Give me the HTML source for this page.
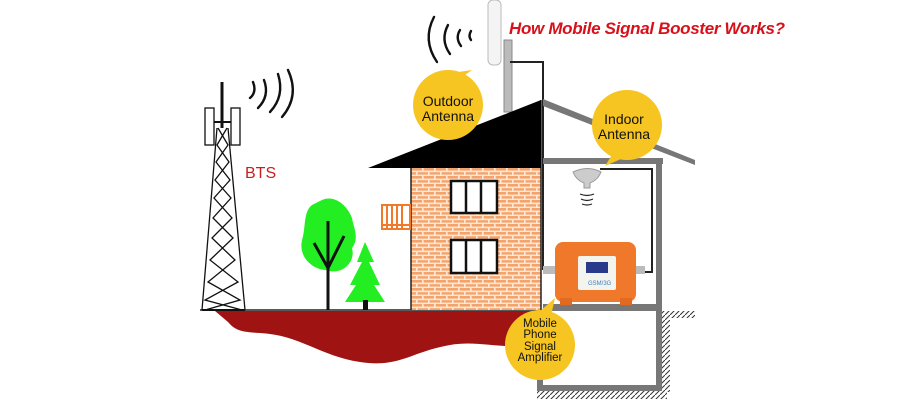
<!DOCTYPE html>
<html><head><meta charset="utf-8"><style>
html,body{margin:0;padding:0;background:#fff;}
svg{display:block;}
text{font-family:"Liberation Sans",sans-serif;}
</style></head><body>
<svg width="900" height="400" viewBox="0 0 900 400" xmlns="http://www.w3.org/2000/svg">
<defs>
<pattern id="brick" width="12" height="8" patternUnits="userSpaceOnUse">
<rect width="12" height="8" fill="#f4a36a"/>
<rect y="2.6" width="12" height="1.6" fill="#fde9da"/>
<rect y="6.6" width="12" height="1.6" fill="#fde9da"/>
<rect x="2" y="0" width="1.6" height="3" fill="#fde9da"/>
<rect x="8" y="4" width="1.6" height="3" fill="#fde9da"/>
</pattern>
<pattern id="hatch" width="5" height="5" patternUnits="userSpaceOnUse">
<rect width="5" height="5" fill="#fff"/>
<line x1="0" y1="5" x2="5" y2="0" stroke="#333" stroke-width="1"/>
</pattern>
</defs>
<path d="M215,311 L540,311 L540,345 C500,350 480,340 450,345 C410,352 400,368 360,362 C320,356 300,335 260,333 C240,332 235,330 228,322 Z" fill="#a01313"/>
<line x1="200" y1="310" x2="541" y2="310" stroke="#222" stroke-width="1.5"/>
<g stroke="#111" stroke-width="1.3" fill="none">
<line x1="222" y1="82" x2="222" y2="128" stroke-width="3"/>
<rect x="205" y="108" width="9" height="37" fill="#fff"/>
<rect x="231" y="108" width="9" height="37" fill="#fff"/>
<line x1="214" y1="122" x2="231" y2="122" stroke-width="2"/>
<line x1="217" y1="128" x2="202" y2="310"/>
<line x1="228" y1="128" x2="245" y2="310"/>
<path d="M218,128 L228,145 L216,162 L230,180 L214,198 L232,218 L212,238 L235,260 L208,282 L240,300 L205,310"/>
<path d="M227,128 L217,145 L229,162 L215,180 L231,198 L213,218 L233,238 L210,260 L238,282 L205,300 L242,310"/>
<line x1="202" y1="310" x2="245" y2="310" stroke-width="2"/>
</g>
<g stroke="#111" stroke-width="2.4" fill="none" stroke-linecap="round">
<path d="M250,98 Q257,92 253,82"/><path d="M258,108 Q270,96 264,80"/><path d="M270,112 Q285,96 278,74"/><path d="M282,117 Q300,96 288,70"/>
<path d="M437,62 Q422,40 434,17"/><path d="M450,54 Q440,40 448,25"/><path d="M461,46 Q455,38 460,30"/><path d="M471,40 Q468,36 471,31"/>
</g>
<text x="245" y="178" font-size="16" fill="#c81e1e">BTS</text>
<path d="M312,205 C303,212 306,228 302,240 C298,258 314,270 326,270 C342,276 356,262 352,248 C360,238 353,226 352,218 C346,203 333,195 322,200 Z" fill="#22ee22"/>
<path d="M328,221 L328,310 M314,243 L328,268 L344,236" stroke="#111" stroke-width="3" fill="none"/>
<path d="M365,242 L357,262 L362,262 L350,285 L356,285 L345,302 L385,302 L374,285 L380,285 L369,262 L374,262 Z" fill="#22ee22"/>
<rect x="363" y="300" width="5" height="10" fill="#111"/>
<rect x="504" y="40" width="8" height="72" fill="#bbb" stroke="#888"/>
<rect x="488" y="0" width="13" height="65" rx="5" fill="#f4f4f4" stroke="#bbb"/>
<polyline points="510,62 543,62 543,270" fill="none" stroke="#222" stroke-width="2"/>
<g fill="#777">
<polygon points="543,99 695,160 695,165 543,106"/>
<rect x="543" y="158" width="120" height="6"/>
<rect x="656" y="158" width="6" height="233"/>
<rect x="543" y="304" width="119" height="7"/>
<rect x="537" y="311" width="6" height="80"/>
<rect x="537" y="385" width="125" height="6"/>
</g>
<rect x="662" y="311" width="33" height="7" fill="url(#hatch)"/>
<rect x="662" y="318" width="8" height="74" fill="url(#hatch)"/>
<rect x="537" y="391" width="130" height="8" fill="url(#hatch)"/>
<rect x="411" y="168" width="130" height="142" fill="url(#brick)"/>
<line x1="411" y1="168" x2="411" y2="310" stroke="#222" stroke-width="1.5"/>
<line x1="541" y1="100" x2="541" y2="310" stroke="#222" stroke-width="1.5"/>
<polygon points="368,168 541,168 541,100" fill="#000"/>
<g fill="#fff" stroke="#111" stroke-width="2.5">
<rect x="451" y="181" width="46" height="32"/><rect x="451" y="240" width="46" height="33"/>
</g>
<g stroke="#111" stroke-width="2.5"><line x1="466" y1="181" x2="466" y2="213"/><line x1="481" y1="181" x2="481" y2="213"/><line x1="466" y1="240" x2="466" y2="273"/><line x1="481" y1="240" x2="481" y2="273"/></g>
<rect x="382" y="205" width="28" height="24" fill="#fff" stroke="#f07a2a" stroke-width="2"/>
<g stroke="#f07a2a" stroke-width="2"><line x1="387" y1="205" x2="387" y2="229"/><line x1="392" y1="205" x2="392" y2="229"/><line x1="397" y1="205" x2="397" y2="229"/><line x1="402" y1="205" x2="402" y2="229"/><line x1="382" y1="225" x2="410" y2="225"/></g>
<path d="M573,172 Q588,165 601,172 Q598,180 590,183 L590,188 L584,188 L584,183 Q576,180 573,172 Z" fill="#ccc" stroke="#999"/>
<g stroke="#222" stroke-width="1.2" fill="none"><path d="M580,194 Q587,197 594,194"/><path d="M581,199 Q587,202 593,199"/><path d="M582,204 Q587,206 592,204"/></g>
<polyline points="600,169 652,169 652,272 644,272" fill="none" stroke="#222" stroke-width="2"/>
<rect x="543" y="266" width="12" height="8" fill="#bbb"/>
<rect x="635" y="266" width="10" height="8" fill="#bbb"/>
<rect x="555" y="242" width="81" height="60" rx="8" fill="#f0782a"/>
<rect x="560" y="298" width="12" height="7" fill="#e06a20"/><rect x="620" y="298" width="12" height="7" fill="#e06a20"/>
<rect x="578" y="256" width="38" height="34" rx="2" fill="#f4f4ee"/>
<rect x="586" y="262" width="22" height="11" fill="#2a3a8a"/>
<text x="588" y="285" font-size="6" fill="#3a80c0">GSM/3G</text>
<g fill="#f7c521">
<circle cx="448" cy="105" r="35"/><polygon points="438,75 472,70 458,80"/>
<circle cx="627" cy="125" r="35"/><polygon points="615,150 605,166 630,155"/>
<circle cx="540" cy="345" r="35"/><polygon points="532,318 555,298 550,320"/>
</g>
<g font-size="14" fill="#111" text-anchor="middle">
<text x="448" y="106">Outdoor</text><text x="448" y="121">Antenna</text>
<text x="624" y="124">Indoor</text><text x="624" y="139">Antenna</text>
</g>
<g font-size="11.5" fill="#111" text-anchor="middle">
<text x="540" y="327">Mobile</text><text x="540" y="338">Phone</text><text x="540" y="350">Signal</text><text x="540" y="361">Amplifier</text>
</g>
<text x="509" y="34" font-size="17" font-weight="bold" font-style="italic" fill="#d8101a" textLength="276">How Mobile Signal Booster Works?</text>
</svg>
</body></html>
